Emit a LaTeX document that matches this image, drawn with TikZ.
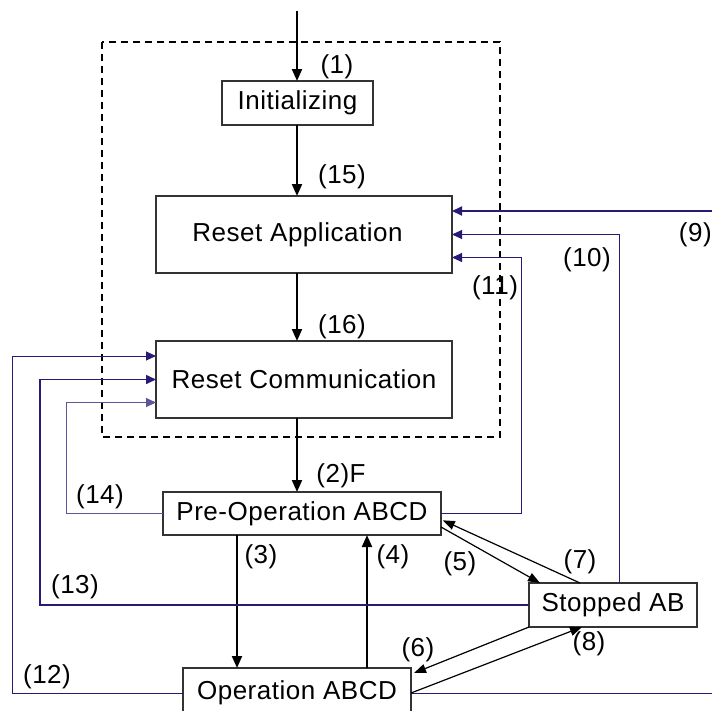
\documentclass[tikz,border=0pt]{standalone}
\usepackage{fontspec}
\setmainfont{Liberation Sans}[LetterSpace=2]
\usetikzlibrary{arrows.meta}
\definecolor{navy}{RGB}{38,28,118}
\begin{document}
\begin{tikzpicture}[x=1pt,y=-1pt,
  box/.style={draw=black!80, line width=1.1pt, inner sep=0pt, outer sep=0pt, font=\fontsize{26}{30}\selectfont},
  lbl/.style={font=\fontsize{26}{30}\selectfont, inner sep=0pt},
  bar/.style={line width=2pt, -{Triangle[length=12pt,width=10pt]}},
  diag/.style={line width=1.2pt, -{Triangle[length=12pt,width=9pt]}},
  nv/.style={draw=navy, line width=1pt, -{Triangle[length=10pt,width=9pt]}},
  frame/.style={dash pattern=on 7pt off 5pt, line width=1.5pt}
]
\useasboundingbox (0,0) rectangle (712,710);
\draw[frame] (102,42) rectangle (500,437);

\node[box, minimum width=151pt, minimum height=44pt] (init) at (297.5,103) {Initializing};
\node[box, minimum width=296pt, minimum height=77pt] (ra) at (304,234.5) {Reset Application\hspace*{13pt}};
\node[box, minimum width=296pt, minimum height=77pt] (rc) at (304,379.5) {Reset Communication};
\node[box, minimum width=278pt, minimum height=43pt] (pre) at (302,513.5) {Pre-Operation ABCD};
\node[box, minimum width=228pt, minimum height=50pt] (op) at (297,693) {Operation ABCD};
\node[box, minimum width=168pt, minimum height=44pt] (st) at (613,605) {Stopped AB};

% black vertical arrows
\coordinate (top) at (297,11);
\coordinate (cx) at (297,0);
\draw[bar] (top) -- (cx |- init.north);
\draw[bar] (cx |- init.south) -- (cx |- ra.north);
\draw[bar] (cx |- ra.south) -- (cx |- rc.north);
\draw[bar] (cx |- rc.south) -- (cx |- pre.north);
\coordinate (c3) at (237,0);
\coordinate (c4) at (367,0);
\draw[bar] (c3 |- pre.south) -- (c3 |- op.north);
\draw[bar] (c4 |- op.north) -- (c4 |- pre.south);

% blue connectors
\coordinate (r9) at (714,211);
\draw[nv, line width=2pt] (r9) -- (r9 -| ra.east);
\coordinate (c10) at (619,0);
\draw[nv] (c10 |- st.north) |- (ra.east);
\coordinate (c11) at (521,257.5);
\draw[nv] (pre.east) -| (c11) -- (c11 -| ra.east);
\coordinate (c12) at (12,356);
\draw[nv] (op.west) -| (c12) -- (c12 -| rc.west);
\coordinate (c13) at (40,379.5);
\draw[nv, line width=1.6pt] (st.west) -| (c13) -- (rc.west);
\coordinate (c14) at (66,402.5);
\draw[nv, draw=navy!75] (pre.west) -| (c14) -- (c14 -| rc.west);
\coordinate (r12) at (714,693);
\draw[navy, line width=1pt] (op.east) -- (r12);

% diagonal arrows
\draw[diag] ([yshift=8pt]pre.south east) -- ([xshift=11pt]st.north west);
\draw[diag, shorten >=2pt] ([xshift=-33pt]st.north) -- ([yshift=-6pt]pre.east);
\draw[diag] (st.south west) -- ([xshift=3pt,yshift=-5pt]op.north east);
\draw[diag] (op.east) -- ([xshift=-31pt]st.south);

% labels
\node[lbl] (l1) at (337,67) {(1)};
\node[lbl] (l15) at (342,177) {(15)};
\node[lbl] (l16) at (342,327) {(16)};
\node[lbl] (l2) at (341,476) {(2)F};
\node[lbl, anchor=east] (l9) at (712,235) {(9)};
\node[lbl] (l10) at (587,260) {(10)};
\node[lbl] (l11) at (495,288) {(11)};
\node[lbl] (l14) at (100,497) {(14)};
\node[lbl] (l13) at (75,587) {(13)};
\node[lbl] (l12) at (47,677) {(12)};
\node[lbl] (l3) at (261,557) {(3)};
\node[lbl] (l4) at (393,557) {(4)};
\node[lbl] (l5) at (460,564) {(5)};
\node[lbl] (l7) at (580,562) {(7)};
\node[lbl] (l6) at (418,650) {(6)};
\node[lbl] (l8) at (589,644) {(8)};
\end{tikzpicture}
\end{document}
